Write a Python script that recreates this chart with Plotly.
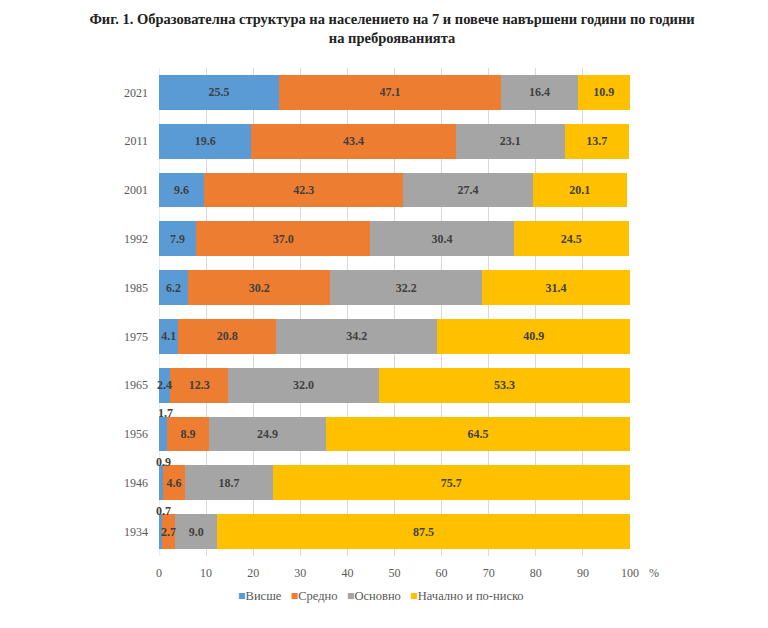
import plotly.graph_objects as go

years = ["1934", "1946", "1956", "1965", "1975", "1985", "1992", "2001", "2011", "2021"]
vishe = [0.7, 0.9, 1.7, 2.4, 4.1, 6.2, 7.9, 9.6, 19.6, 25.5]
sredno = [2.7, 4.6, 8.9, 12.3, 20.8, 30.2, 37.0, 42.3, 43.4, 47.1]
osnovno = [9.0, 18.7, 24.9, 32.0, 34.2, 32.2, 30.4, 27.4, 23.1, 16.4]
nachalno = [87.5, 75.7, 64.5, 53.3, 40.9, 31.4, 24.5, 20.1, 13.7, 10.9]
series_names = ["Висше", "Средно", "Основно", "Начално и по-ниско"]
colors = ["#5B9BD5", "#ED7D31", "#A5A5A5", "#FFC000"]
x_ticks = [0, 10, 20, 30, 40, 50, 60, 70, 80, 90, 100]

FONT = "Liberation Serif"
LBL = dict(family=FONT, size=12, color="#404040")
fig = go.Figure()
all_vals = [vishe, sredno, osnovno, nachalno]
for k, (name, vals, col) in enumerate(zip(series_names, all_vals, colors)):
    txt = [f"{v:.1f}" if v >= 3 else "" for v in vals]
    fig.add_trace(go.Bar(
        y=years, x=vals, name=name, orientation="h",
        marker=dict(color=col, line=dict(width=0)),
        text=txt, textposition="inside", insidetextanchor="middle",
        textangle=0, constraintext="none",
        textfont=dict(LBL, weight="bold"),
        hoverinfo="skip", showlegend=False,
    ))

# narrow segments: labels drawn on top (above the bar when very small)
for k, vals in enumerate(all_vals):
    for i, v in enumerate(vals):
        if v >= 3:
            continue
        start = sum(all_vals[j][i] for j in range(k))
        if v < 2:
            fig.add_annotation(x=start + v / 2 + 0.6, y=i, text=f"<b>{v:.1f}</b>",
                               showarrow=False, yshift=21, font=LBL)
        else:
            fig.add_annotation(x=start + v / 2, y=i, text=f"<b>{v:.1f}</b>",
                               showarrow=False, font=LBL)

fig.add_annotation(x=1, xref="paper", y=0, yref="paper", text="%", showarrow=False,
                   xanchor="left", yanchor="top", xshift=17, yshift=-8,
                   font=dict(family=FONT, size=12, color="#595959"))

# legend row
legend_txt = "&nbsp;&nbsp;&nbsp;".join(
    f'<span style="color:{c}">■</span>{n}' for n, c in zip(series_names, colors))
fig.add_annotation(x=(381 - 159) / 471, xref="paper", y=-40 / 488, yref="paper",
                   text=legend_txt, showarrow=False, xanchor="center", yanchor="middle",
                   font=dict(family=FONT, size=12.5, color="#595959"))

fig.update_layout(
    width=768, height=628,
    barmode="stack", bargap=0.29,
    paper_bgcolor="white", plot_bgcolor="white",
    margin=dict(l=159, r=138, t=68, b=72, autoexpand=False),
    title=dict(
        text="<b>Фиг. 1. Образователна структура на населението на 7 и повече навършени години по години<br>на преброяванията</b>",
        x=392 / 768, xanchor="center", y=0.962, yanchor="top",
        font=dict(family=FONT, size=14.5, color="#222222"),
    ),
    xaxis=dict(range=[0, 100], tickvals=x_ticks, showgrid=True, gridcolor="#D9D9D9",
               gridwidth=1, zeroline=False, showline=False, automargin=False,
               tickfont=dict(family=FONT, size=12, color="#595959"), ticks="",
               ticklabelstandoff=8),
    yaxis=dict(type="category", categoryorder="array", categoryarray=years,
               range=[-0.5, len(years) - 0.5], autorange=False,
               showgrid=False, zeroline=False, showline=False, ticks="", automargin=False,
               tickfont=dict(family=FONT, size=12, color="#595959"), ticklabelstandoff=10),
    showlegend=False,
)
fig.add_shape(type="line", xref="x", yref="paper", x0=0, x1=0, y0=0, y1=1,
              line=dict(color="#D9D9D9", width=1), layer="below")

fig.write_html("out.html", config={"displayModeBar": False})
with open("out.html", encoding="utf-8") as f:
    html = f.read()
html = html.replace("<head>", "<head><style>html,body{margin:0;padding:0;overflow:hidden;}</style>", 1)
with open("out.html", "w", encoding="utf-8") as f:
    f.write(html)
